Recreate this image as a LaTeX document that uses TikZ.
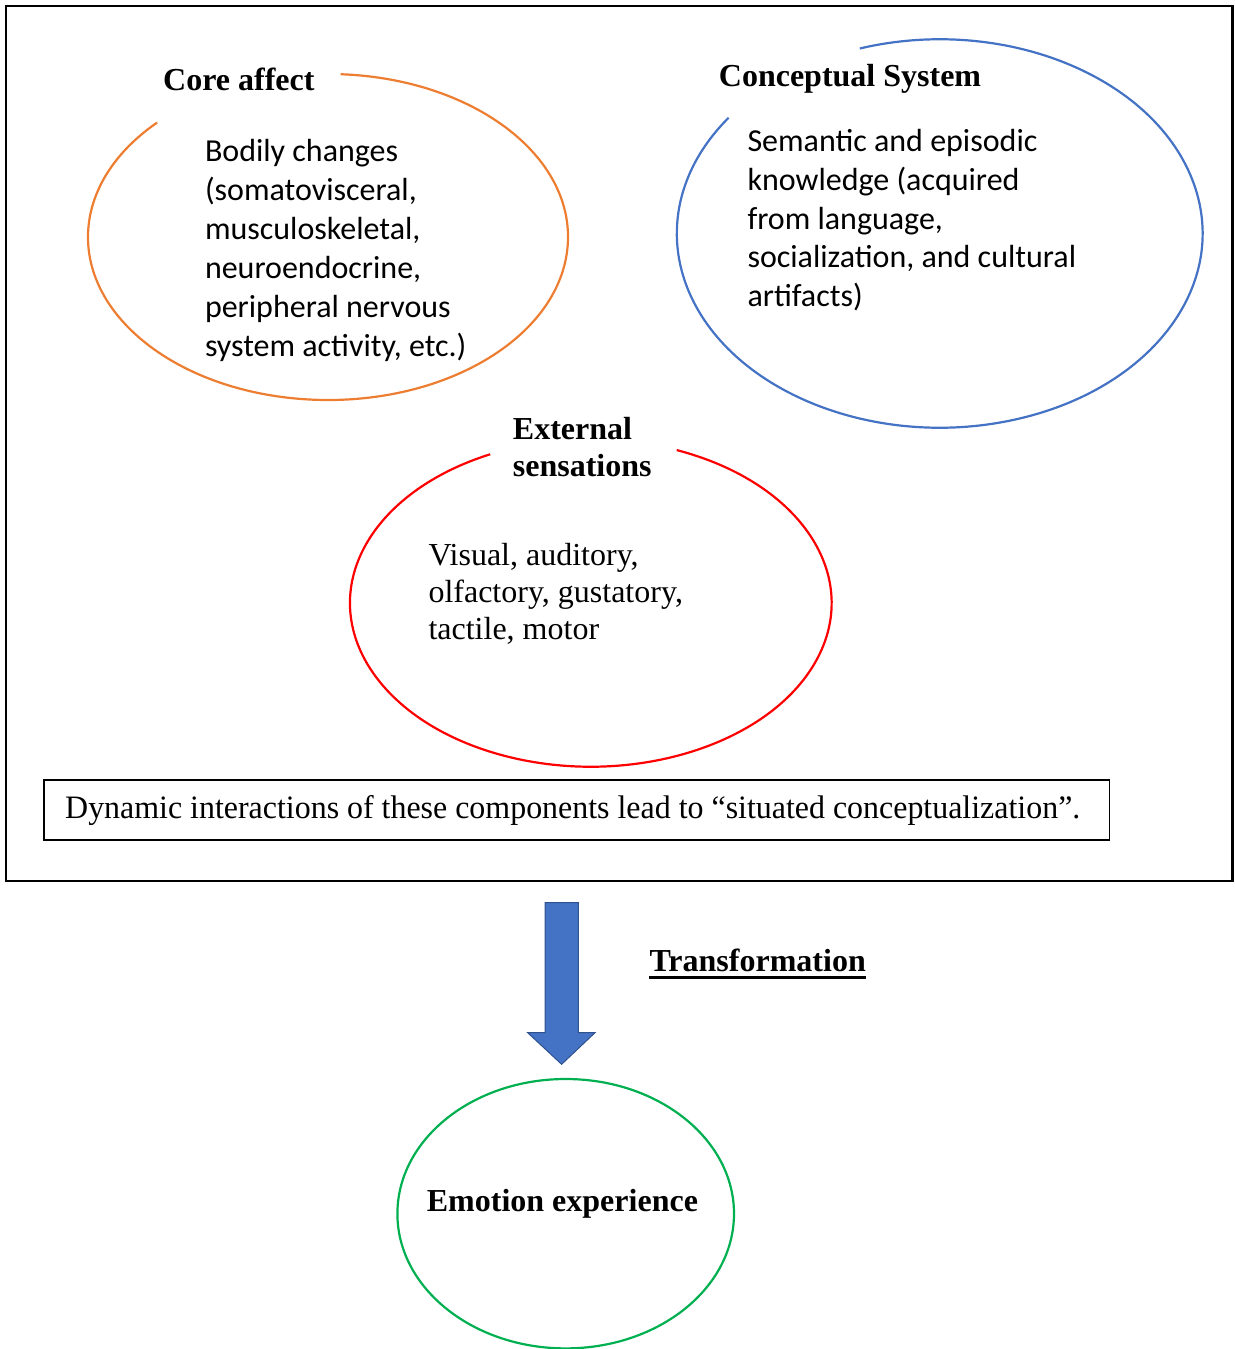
\documentclass[tikz,border=0pt]{standalone}
\usepackage{fontspec}
\usepackage{graphicx}
\setmainfont{Liberation Serif}
\newfontfamily\calibrifont{Carlito}
\definecolor{coreorange}{HTML}{ED7D31}
\definecolor{conceptblue}{HTML}{4472C4}
\definecolor{sensered}{HTML}{FF0000}
\definecolor{emotiongreen}{HTML}{00B050}
\definecolor{arrowedge}{HTML}{2F528F}
% multi-line nodes are placed by the baseline of their last line
\tikzset{
  title/.style={inner sep=0pt, anchor=base west, align=left,
    font=\fontsize{32}{36.7}\selectfont\bfseries},
  serifbody/.style={inner sep=0pt, anchor=base west, align=left,
    font=\fontsize{32}{37}\selectfont},
  sansbody/.style={inner sep=0pt, anchor=base west, align=left,
    font=\fontsize{32}{39}\selectfont\calibrifont},
  ring/.style={line width=2.2pt},
}
\begin{document}
\begin{tikzpicture}[x=1pt,y=-1pt]
\useasboundingbox (0,0) rectangle (1234,1349);

% outer frame
\draw[line width=2.4pt] (6.2,6) rectangle (1232.3,880.8);

% core affect ellipse, open where its title sits
\draw[ring, coreorange] (328,237) ++(273:240 and 163)
  arc[start angle=273, end angle=584.6, x radius=240, y radius=163];
\node[title] (coretitle) at (163,90.7) {Core affect};
\node[sansbody] (corebody) at (204.8,356.7) {Bodily changes\\(somatovisceral,\\musculoskeletal,\\neuroendocrine,\\peripheral nervous\\system activity, etc.)};

% conceptual system ellipse
\draw[ring, conceptblue] (939.7,233.5) ++(252.3:262.9 and 194.2)
  arc[start angle=252.3, end angle=576.6, x radius=262.9, y radius=194.2];
\node[title] (concepttitle) at (718.7,86) {Conceptual System};
\node[sansbody, font=\fontsize{32}{38.75}\selectfont\calibrifont] (conceptbody) at (747.3,306.7) {Semantic and episodic\\knowledge (acquired\\from language,\\socialization, and cultural\\artifacts)};

% external sensations ellipse
\draw[ring, sensered] (590.8,603) ++(290.9:240.8 and 163.7)
  arc[start angle=290.9, end angle=605.3, x radius=240.8, y radius=163.7];
\node[title] (sensetitle) at (512.7,476) {External\\sensations};
\node[serifbody] (sensebody) at (428.3,639) {Visual, auditory,\\olfactory, gustatory,\\tactile, motor};

% summary box
\draw[line width=1.2pt] (44,780) rectangle (1109.3,840);
\node[inner sep=0pt, anchor=base west, font=\fontsize{32.7}{37}\selectfont] (summary) at (65,818.3)
  {\resizebox{1015pt}{\height}{Dynamic interactions of these components lead to “situated conceptualization”.}};

% transformation arrow
\fill[conceptblue, draw=arrowedge, line width=1pt]
  (545,902.7) -- (578.3,902.7) -- (578.3,1032.7) -- (595,1032.7)
  -- (561.6,1064.3) -- (527.7,1032.7) -- (545,1032.7) -- cycle;
\node[title] (trans) at (649.3,971.7) {Transformation};
\draw[line width=2.6pt] ([yshift=-5.6pt]trans.base west) -- ([yshift=-5.6pt]trans.base east);

% resulting emotion
\draw[ring, emotiongreen] (565.7,1213.7) ellipse[x radius=168.3, y radius=134.7];
\node[title] (emotion) at (426.7,1211.7) {Emotion experience};
\end{tikzpicture}
\end{document}
